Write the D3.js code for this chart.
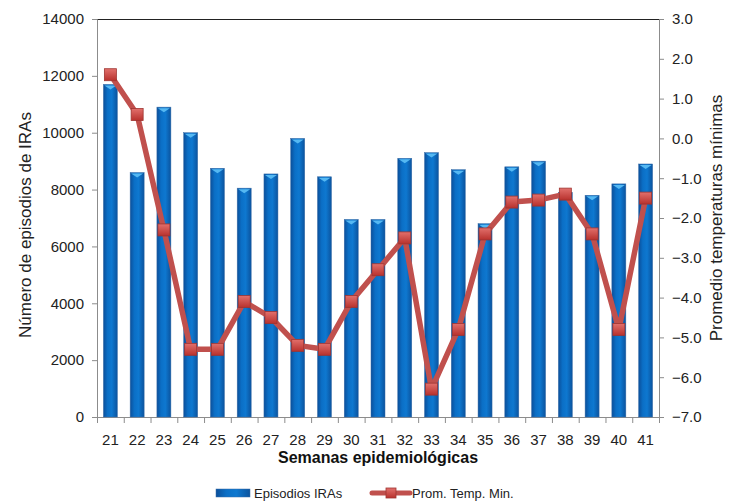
<!DOCTYPE html>
<html>
<head>
<meta charset="utf-8">
<script src="https://cdn.jsdelivr.net/npm/d3@7"></script>
<style>
body { margin: 0; background: #fff; }
svg { font-family: "Liberation Sans", Arial, sans-serif; }
</style>
</head>
<body>
<svg id="chart"></svg>
<script>
var semanas = ["21", "22", "23", "24", "25", "26", "27", "28", "29", "30", "31",
    "32", "33", "34", "35", "36", "37", "38", "39", "40", "41"]
var episodios = [11700, 8600, 10900, 10000, 8750, 8050, 8550, 9800, 8450, 6950, 6950,
    9100, 9300, 8700, 6800, 8800, 9000, 7900, 7800, 8200, 8900]
var tempMin = [1.6, 0.6, -2.3, -5.3, -5.3, -4.1, -4.5, -5.2, -5.3, -4.1, -3.3,
    -2.5, -6.3, -4.8, -2.4, -1.6, -1.55, -1.4, -2.4, -4.8, -1.5]
var leftTicks = [0, 2000, 4000, 6000, 8000, 10000, 12000, 14000]
var rightTicks = [-7, -6, -5, -4, -3, -2, -1, 0, 1, 2, 3]

var screen = { width: 732, height: 502 }
var margins = { left: 97, right: 73, top: 19, bottom: 85 }
var graph = {
    width: screen.width - margins.left - margins.right,
    height: screen.height - margins.top - margins.bottom
}

var svg = d3.select("#chart")
    .attr("width", screen.width)
    .attr("height", screen.height)

var defs = svg.append("defs")
var barGrad = defs.append("linearGradient").attr("id", "barGrad")
    .attr("x1", 0).attr("x2", 1).attr("y1", 0).attr("y2", 0)
barGrad.append("stop").attr("offset", "0%").attr("stop-color", "#0b4f9a")
barGrad.append("stop").attr("offset", "30%").attr("stop-color", "#0b6fc6")
barGrad.append("stop").attr("offset", "60%").attr("stop-color", "#0e78d0")
barGrad.append("stop").attr("offset", "100%").attr("stop-color", "#0b539e")

var mkGrad = defs.append("linearGradient").attr("id", "mkGrad")
    .attr("x1", 0).attr("x2", 0).attr("y1", 0).attr("y2", 1)
mkGrad.append("stop").attr("offset", "0%").attr("stop-color", "#e2706c")
mkGrad.append("stop").attr("offset", "100%").attr("stop-color", "#b8312d")

var xScale = d3.scaleBand()
    .domain(semanas)
    .range([0, graph.width])

var yLeft = d3.scaleLinear()
    .domain([0, 14000])
    .range([graph.height, 0])

var yRight = d3.scaleLinear()
    .domain([-7, 3])
    .range([graph.height, 0])

var plot = svg.append("g")
    .attr("transform", "translate(" + margins.left + "," + margins.top + ")")

// top border of plot area
plot.append("line")
    .attr("x1", 0).attr("x2", graph.width)
    .attr("y1", 0.5).attr("y2", 0.5)
    .attr("stroke", "#222").attr("stroke-width", 1)

// axes
var leftAxis = d3.axisLeft(yLeft).tickValues(leftTicks).tickSize(5).tickPadding(8)
    .tickFormat(d3.format("d"))
var rightAxis = d3.axisRight(yRight).tickValues(rightTicks).tickSize(5).tickPadding(8)
    .tickFormat(d3.format(".1f"))
var bottomAxis = d3.axisBottom(xScale).tickSize(0).tickPadding(14)

var styleAxis = function (g) {
    g.select(".domain").attr("stroke", "#8c8c8c")
    g.selectAll(".tick line").attr("stroke", "#8c8c8c")
    g.selectAll("text").attr("font-size", 15).attr("fill", "#222")
        .attr("font-family", "Liberation Sans, Arial, sans-serif")
}

plot.append("g").call(leftAxis).call(styleAxis)
plot.append("g").attr("transform", "translate(" + graph.width + ",0)")
    .call(rightAxis).call(styleAxis)
var xg = plot.append("g").attr("transform", "translate(0," + graph.height + ")")
    .call(bottomAxis).call(styleAxis)
xg.selectAll(".tick text").attr("dy", "0.9em")
// category separators on x axis
xg.selectAll(".sep")
    .data(semanas.concat(["end"]))
    .enter()
    .append("line")
    .attr("x1", function (d, i) { return i * xScale.step() + 0.5 })
    .attr("x2", function (d, i) { return i * xScale.step() + 0.5 })
    .attr("y1", 0).attr("y2", 6)
    .attr("stroke", "#8c8c8c")

// bars
var barW = 14
var bars = plot.append("g").selectAll("g")
    .data(episodios)
    .enter()
    .append("g")
bars.append("rect")
    .attr("x", function (d, i) { return xScale(semanas[i]) + xScale.bandwidth() / 2 - barW / 2 })
    .attr("y", function (d) { return yLeft(d) })
    .attr("width", barW)
    .attr("height", function (d) { return graph.height - yLeft(d) })
    .attr("fill", "url(#barGrad)")
    .attr("stroke", "#3a6ea8")
    .attr("stroke-width", 0.5)
bars.append("path")
    .attr("d", function (d, i) {
        var cx = xScale(semanas[i]) + xScale.bandwidth() / 2
        var y = yLeft(d)
        return "M" + (cx - barW / 2 + 1) + "," + (y + 1) + "L" + (cx + barW / 2 - 1) + "," + (y + 1) +
            "L" + cx + "," + (y + 5) + "Z"
    })
    .attr("fill", "#55b8f2")

// line
var lineGenerator = d3.line()
    .x(function (d, i) { return xScale(semanas[i]) + xScale.bandwidth() / 2 })
    .y(function (d) { return yRight(d) })

plot.append("path")
    .datum(tempMin)
    .attr("d", lineGenerator)
    .attr("fill", "none")
    .attr("stroke", "#c0504d")
    .attr("stroke-width", 5.5)
    .attr("stroke-linejoin", "round")

var mk = 12
plot.append("g").selectAll("rect")
    .data(tempMin)
    .enter()
    .append("rect")
    .attr("x", function (d, i) { return xScale(semanas[i]) + xScale.bandwidth() / 2 - mk / 2 })
    .attr("y", function (d) { return yRight(d) - mk / 2 })
    .attr("width", mk)
    .attr("height", mk)
    .attr("fill", "url(#mkGrad)")
    .attr("stroke", "#9e3431")
    .attr("stroke-width", 0.8)

// labels
svg.append("text")
    .text("Semanas epidemiológicas")
    .attr("x", margins.left + graph.width / 2)
    .attr("y", 463)
    .attr("text-anchor", "middle")
    .attr("font-weight", "bold")
    .attr("font-size", 16)
    .attr("fill", "#111")

svg.append("text")
    .text("Número de episodios de IRAs")
    .attr("transform", "translate(31,225) rotate(-90)")
    .attr("text-anchor", "middle")
    .attr("font-size", 17)
    .attr("fill", "#222")

svg.append("text")
    .text("Promedio temperaturas mínimas")
    .attr("transform", "translate(722,218) rotate(-90)")
    .attr("text-anchor", "middle")
    .attr("font-size", 17)
    .attr("fill", "#222")

// legend
var legend = svg.append("g")
legend.append("rect")
    .attr("x", 216).attr("y", 489).attr("width", 34).attr("height", 8)
    .attr("fill", "url(#barGrad)")
    .attr("stroke", "#3a6ea8").attr("stroke-width", 0.5)
legend.append("text")
    .text("Episodios IRAs")
    .attr("x", 254).attr("y", 498)
    .attr("font-size", 13).attr("fill", "#222")
legend.append("line")
    .attr("x1", 372).attr("x2", 410).attr("y1", 493).attr("y2", 493)
    .attr("stroke", "#c0504d").attr("stroke-width", 5).attr("stroke-linecap", "round")
legend.append("rect")
    .attr("x", 386).attr("y", 488).attr("width", 10).attr("height", 10)
    .attr("fill", "url(#mkGrad)").attr("stroke", "#9e3431").attr("stroke-width", 0.8)
legend.append("text")
    .text("Prom. Temp. Min.")
    .attr("x", 412).attr("y", 498)
    .attr("font-size", 13).attr("fill", "#222")
</script>
</body>
</html>
